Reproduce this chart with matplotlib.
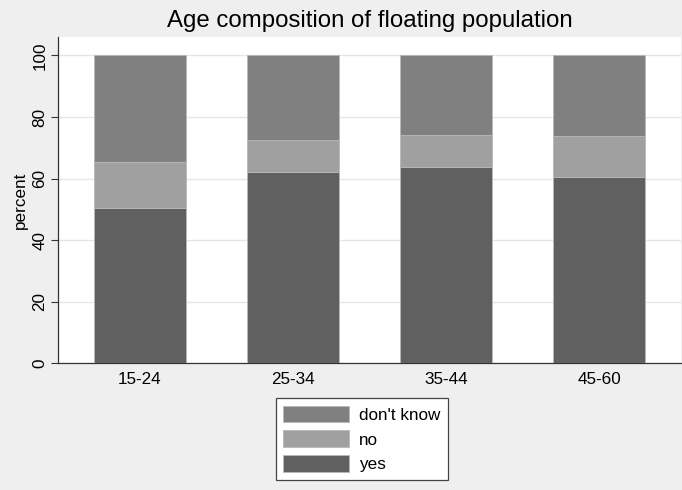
import matplotlib
matplotlib.use("Agg")
import matplotlib.pyplot as plt
import numpy as np

categories = ["15-24", "25-34", "35-44", "45-60"]
yes = [50.6, 62.3, 63.7, 60.5]
no = [14.7, 10.1, 10.6, 13.4]
dont_know = [34.7, 27.6, 25.7, 26.1]

plt.rcParams['font.family'] = ['Liberation Sans', 'DejaVu Sans']

fig = plt.figure(figsize=(6.82, 4.90), dpi=100)
fig.patch.set_facecolor('#efefef')
ax = fig.add_axes([0.0856, 0.2586, 0.9125, 0.6659])
ax.set_facecolor('white')

x = np.arange(len(categories))
w = 0.6
ec = '#b8b8b8'
b_yes = ax.bar(x, yes, w, color='#606060', edgecolor=ec, linewidth=0.6, label='yes', zorder=3)
b_no = ax.bar(x, no, w, bottom=yes, color='#a0a0a0', edgecolor=ec, linewidth=0.6, label='no', zorder=3)
bottom2 = [a + b for a, b in zip(yes, no)]
b_dk = ax.bar(x, dont_know, w, bottom=bottom2, color='#808080', edgecolor=ec, linewidth=0.6, label="don't know", zorder=3)

ax.set_xlim(-0.53, 3.53)
ax.set_ylim(0, 106)
ax.set_yticks([0, 20, 40, 60, 80, 100])
ax.set_xticks(x)
ax.set_xticklabels(categories, fontsize=12.3)
for lab in ax.get_yticklabels():
    lab.set_rotation(90)
    lab.set_va('center')
    lab.set_fontsize(12.3)
ax.tick_params(axis='y', direction='out', length=5, color='#333333', width=0.8, pad=3)
ax.tick_params(axis='x', length=0, pad=6)
ax.yaxis.grid(True, color='#e6e6e6', linewidth=1.0, zorder=0)
ax.set_axisbelow(True)
for s in ['top', 'right']:
    ax.spines[s].set_visible(False)
for s in ['left', 'bottom']:
    ax.spines[s].set_color('#333333')
    ax.spines[s].set_linewidth(0.9)

ax.set_ylabel('percent', fontsize=12.3, labelpad=3)
fig.text(370 / 682, 1 - 21 / 490, 'Age composition of floating population',
         fontsize=17.3, ha='center', va='center')

leg = fig.legend(handles=[b_dk, b_no, b_yes], labels=["don't know", 'no', 'yes'],
                 loc='center', bbox_to_anchor=(362 / 682, 1 - 439 / 490),
                 fontsize=12.3, frameon=True, fancybox=False, edgecolor='#444444',
                 facecolor='white', framealpha=1.0,
                 handlelength=3.85, handleheight=1.1, labelspacing=0.45,
                 handletextpad=0.6, borderpad=0.45, borderaxespad=0)
leg.get_frame().set_linewidth(0.9)

fig.savefig('out.png', dpi=100, facecolor=fig.get_facecolor())
